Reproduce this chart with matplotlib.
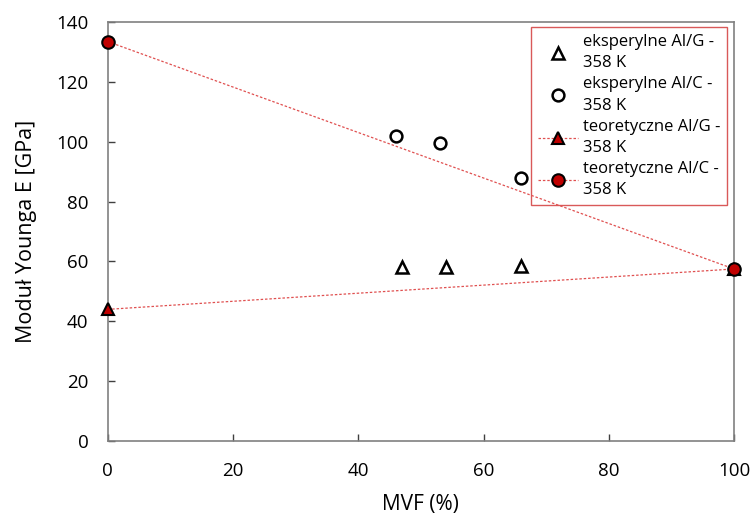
import matplotlib
matplotlib.use("Agg")
import matplotlib.pyplot as plt

plt.rcParams['font.family'] = ['Open Sans', 'DejaVu Sans']

exp_g_x = [47, 54, 66]
exp_g_y = [58, 58, 58.5]
exp_c_x = [46, 53, 66]
exp_c_y = [102, 99.5, 88]
teo_g_x = [0, 100]
teo_g_y = [44, 57.5]
teo_c_x = [0, 100]
teo_c_y = [133.5, 57.5]
labels = ["eksperylne Al/G -\n358 K", "eksperylne Al/C -\n358 K",
          "teoretyczne Al/G -\n358 K", "teoretyczne Al/C -\n358 K"]
xticks = [0, 20, 40, 60, 80, 100]
yticks = [0, 20, 40, 60, 80, 100, 120, 140]

fig = plt.figure(figsize=(7.54, 5.15), dpi=100)
ax = fig.add_axes([0.143, 0.1437, 0.8305, 0.8133])

red = '#C00000'
lc = '#E05050'
ax.plot(exp_g_x, exp_g_y, linestyle='none', marker='^', ms=8.5, mfc='white', mec='black', mew=1.8, label=labels[0], zorder=4)
ax.plot(exp_c_x, exp_c_y, linestyle='none', marker='o', ms=8.5, mfc='white', mec='black', mew=1.8, label=labels[1], zorder=4)
ax.plot(teo_g_x, teo_g_y, linestyle=(0, (2, 1.5)), color=lc, lw=0.9, marker='^', ms=9, mfc=red, mec='black', mew=1.5, label=labels[2], zorder=5, clip_on=False)
ax.plot(teo_c_x, teo_c_y, linestyle=(0, (2, 1.5)), color=lc, lw=0.9, marker='o', ms=9, mfc=red, mec='black', mew=1.5, label=labels[3], zorder=6, clip_on=False)

ax.set_xlim(0, 100)
ax.set_ylim(0, 140)
ax.set_xticks(xticks)
ax.set_yticks(yticks)
ax.tick_params(direction='in', length=5, width=1, colors='#404040', labelsize=13.5, labelcolor='black')
ax.tick_params(axis='x', pad=15)
ax.tick_params(axis='y', pad=14)
for s in ax.spines.values():
    s.set_color('#808080')
    s.set_linewidth(1.2)
ax.set_xlabel('MVF (%)', fontsize=15, labelpad=10)
ax.set_ylabel('Moduł Younga E [GPa]', fontsize=15.5, labelpad=14)

leg = ax.legend(loc='upper right', bbox_to_anchor=(0.9888, 0.988), fontsize=12, frameon=True, fancybox=False,
                edgecolor='#D03030', handlelength=2.4, handletextpad=0.3, borderpad=0.4, labelspacing=0.3,
                borderaxespad=0)
leg.get_frame().set_linewidth(1.0)
for t in leg.get_texts():
    t.set_linespacing(1.45)

fig.savefig('out.png', dpi=100)
